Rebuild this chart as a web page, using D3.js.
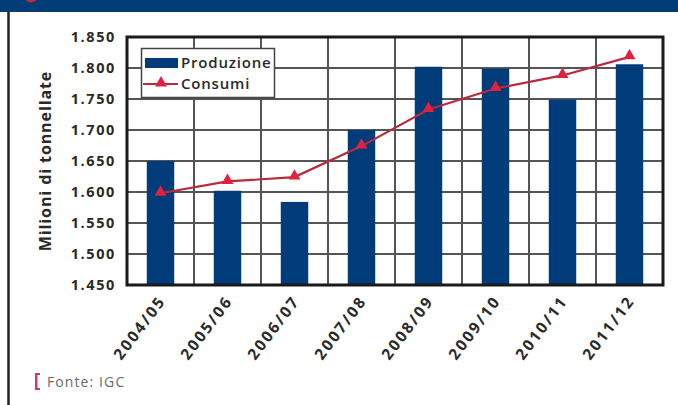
<!DOCTYPE html>
<html>
<head>
<meta charset="utf-8">
<script src="https://cdn.jsdelivr.net/npm/d3@7/dist/d3.min.js"></script>
<style>
  html, body { margin: 0; padding: 0; background: #fff; }
  svg { display: block; }
  text { font-family: "Open Sans", "DejaVu Sans", sans-serif; }
</style>
</head>
<body>
<svg id="chart" width="678" height="405"></svg>
<script>
// Campagne (asse delle categorie)
const categories = ["2004/05", "2005/06", "2006/07", "2007/08", "2008/09", "2009/10", "2010/11", "2011/12"];
// Produzione mondiale di cereali, milioni di tonnellate
const produzione = [1650, 1602, 1584, 1700, 1802, 1799, 1749, 1806];
// Consumi mondiali di cereali, milioni di tonnellate
const consumi = [1598, 1617, 1624, 1674, 1733, 1767, 1788, 1818];
// Valori delle tacche dell'asse y
const yTicks = [1450, 1500, 1550, 1600, 1650, 1700, 1750, 1800, 1850];
const seriesNames = ["Produzione", "Consumi"];

const svg = d3.select("#chart");
const W = 678, H = 405;
const plot = { left: 127, right: 663, top: 37, bottom: 285 };

const fmt = v => d3.format(",")(v).replace(",", ".");

// Fascia del titolo
svg.append("rect").attr("x", 0).attr("y", 0).attr("width", W).attr("height", 12).attr("fill", "#003c76");
svg.append("circle").attr("cx", 31).attr("cy", -5).attr("r", 7.5).attr("fill", "#c8243c");
// Bordo sinistro del riquadro
svg.append("line").attr("x1", 8.5).attr("x2", 8.5).attr("y1", 12).attr("y2", H)
  .attr("stroke", "#222").attr("stroke-width", 2.5);

const x = d3.scaleBand().domain(categories).range([plot.left, plot.right]).padding(0);
const y = d3.scaleLinear().domain([1450, 1850]).range([plot.bottom, plot.top]);
const barW = x.bandwidth() * 0.41;

// Griglia orizzontale
svg.append("g").selectAll("line").data(yTicks.slice(1, -1)).join("line")
  .attr("x1", plot.left).attr("x2", plot.right)
  .attr("y1", d => y(d)).attr("y2", d => y(d))
  .attr("stroke", "#555").attr("stroke-width", 2);
// Griglia verticale ai confini delle categorie
svg.append("g").selectAll("line").data(categories.slice(1)).join("line")
  .attr("x1", d => x(d)).attr("x2", d => x(d))
  .attr("y1", plot.top).attr("y2", plot.bottom)
  .attr("stroke", "#555").attr("stroke-width", 2);

// Barre della produzione
svg.append("g").selectAll("rect").data(categories).join("rect")
  .attr("x", d => x(d) + x.bandwidth() / 2 - barW / 2)
  .attr("width", barW)
  .attr("y", (d, i) => y(produzione[i]))
  .attr("height", (d, i) => y(1450) - y(produzione[i]))
  .attr("fill", "#003b7a");

// Cornice dell'area del grafico
svg.append("rect").attr("x", plot.left).attr("y", plot.top)
  .attr("width", plot.right - plot.left).attr("height", plot.bottom - plot.top)
  .attr("fill", "none").attr("stroke", "#1a1a1a").attr("stroke-width", 3);

// Linea dei consumi
const line = d3.line().x((d, i) => x(categories[i]) + x.bandwidth() / 2).y(d => y(d));
svg.append("path").datum(consumi).attr("d", line)
  .attr("fill", "none").attr("stroke", "#b82a3c").attr("stroke-width", 2.2);
const tri = d3.symbol().type(d3.symbolTriangle).size(62);
svg.append("g").selectAll("path").data(consumi).join("path")
  .attr("d", tri)
  .attr("transform", (d, i) => `translate(${x(categories[i]) + x.bandwidth() / 2},${y(d) - 1})`)
  .attr("fill", "#e0213f");

// Asse y: etichette delle tacche
const yAxis = d3.axisLeft(y).tickValues(yTicks).tickFormat(fmt).tickSize(0).tickPadding(0);
const gy = svg.append("g").attr("transform", `translate(${plot.left - 11},0)`).call(yAxis);
gy.select(".domain").remove();
gy.selectAll("text")
  .attr("font-family", "'Open Sans', sans-serif")
  .attr("font-size", 14.5).attr("font-weight", 700)
  .attr("letter-spacing", 1.6).attr("fill", "#2a2a2a")
  .attr("dy", "0.3em");

// Titolo dell'asse y
svg.append("text")
  .attr("transform", `translate(51,${(plot.top + plot.bottom) / 2}) rotate(-90)`)
  .attr("text-anchor", "middle")
  .attr("font-size", 16).attr("font-weight", 700).attr("fill", "#2a2a2a")
  .attr("letter-spacing", 0.9)
  .text("Milioni di tonnellate");

// Asse x: etichette ruotate
const xAxis = d3.axisBottom(x).tickSize(0).tickPadding(0);
const gx = svg.append("g").attr("transform", `translate(0,${plot.bottom})`).call(xAxis);
gx.select(".domain").remove();
gx.selectAll("text")
  .attr("font-family", "'Open Sans', sans-serif")
  .attr("font-size", 15.5).attr("font-weight", 700)
  .attr("letter-spacing", 2.2).attr("fill", "#2a2a2a")
  .attr("text-anchor", "end")
  .attr("dy", 0).attr("y", 0)
  .attr("transform", "translate(6,16) rotate(-53)");

// Legenda
const lg = svg.append("g");
lg.append("rect").attr("x", 141.5).attr("y", 48.5).attr("width", 133).attr("height", 49)
  .attr("fill", "#fff").attr("stroke", "#444").attr("stroke-width", 1.5);
lg.append("rect").attr("x", 145).attr("y", 58).attr("width", 33).attr("height", 10).attr("fill", "#003b7a");
lg.append("line").attr("x1", 143).attr("x2", 178).attr("y1", 84).attr("y2", 84)
  .attr("stroke", "#b82a3c").attr("stroke-width", 2);
lg.append("path").attr("d", tri).attr("transform", "translate(161,83)").attr("fill", "#e0213f");
lg.selectAll("text.leg").data(seriesNames).join("text").attr("class", "leg")
  .attr("x", 181).attr("y", (d, i) => 68 + i * 21)
  .attr("font-size", 15).attr("font-weight", 600).attr("fill", "#2a2a2a")
  .attr("letter-spacing", 0.8)
  .text(d => d);

// Fonte
svg.append("rect").attr("x", 35).attr("y", 373).attr("width", 2.5).attr("height", 17).attr("fill", "#d03a5c");
svg.append("rect").attr("x", 35).attr("y", 373).attr("width", 5).attr("height", 2).attr("fill", "#d03a5c");
svg.append("rect").attr("x", 35).attr("y", 388).attr("width", 5).attr("height", 2).attr("fill", "#d03a5c");
svg.append("text").attr("x", 47).attr("y", 387)
  .attr("font-size", 14).attr("fill", "#6a6a6a")
  .attr("letter-spacing", 1.1)
  .text("Fonte: IGC");
</script>
</body>
</html>
